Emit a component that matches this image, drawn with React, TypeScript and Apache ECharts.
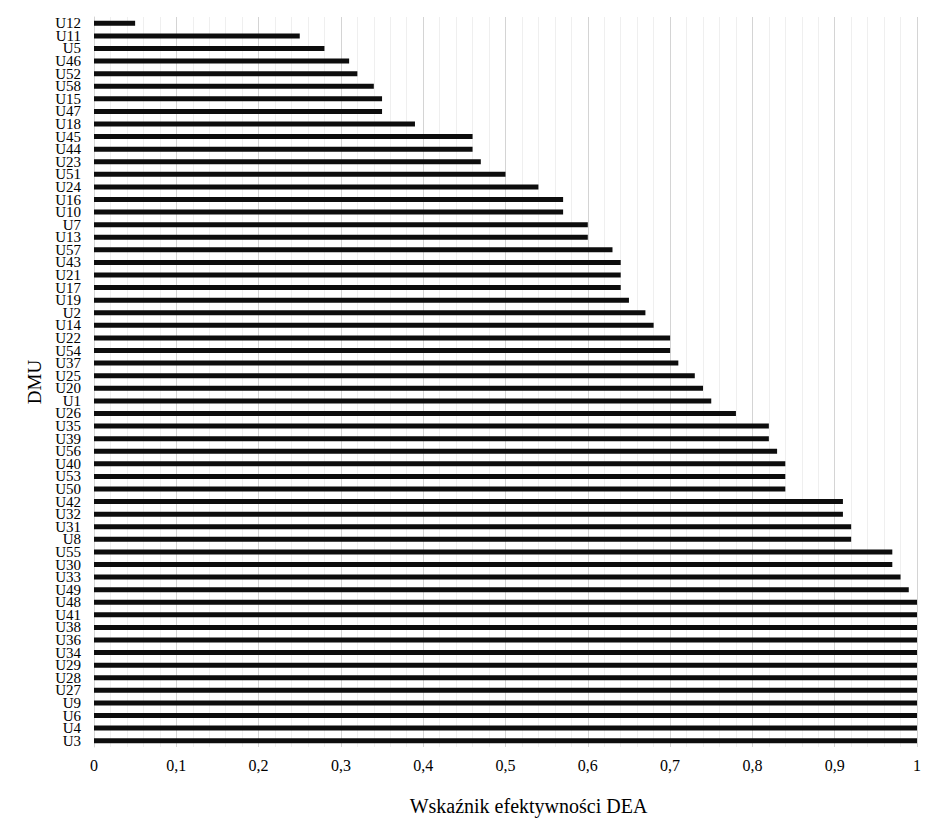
import React, { useEffect, useRef } from "react";
import * as echarts from "echarts";

const categories = [
  "U12", "U11", "U5", "U46", "U52", "U58", "U15", "U47", "U18", "U45",
  "U44", "U23", "U51", "U24", "U16", "U10", "U7", "U13", "U57", "U43",
  "U21", "U17", "U19", "U2", "U14", "U22", "U54", "U37", "U25", "U20",
  "U1", "U26", "U35", "U39", "U56", "U40", "U53", "U50", "U42", "U32",
  "U31", "U8", "U55", "U30", "U33", "U49", "U48", "U41", "U38", "U36",
  "U34", "U29", "U28", "U27", "U9", "U6", "U4", "U3",
];

const deaValues = [
  0.05, 0.25, 0.28, 0.31, 0.32, 0.34, 0.35, 0.35, 0.39, 0.46,
  0.46, 0.47, 0.5, 0.54, 0.57, 0.57, 0.6, 0.6, 0.63, 0.64,
  0.64, 0.64, 0.65, 0.67, 0.68, 0.7, 0.7, 0.71, 0.73, 0.74,
  0.75, 0.78, 0.82, 0.82, 0.83, 0.84, 0.84, 0.84, 0.91, 0.91,
  0.92, 0.92, 0.97, 0.97, 0.98, 0.99, 1, 1, 1, 1,
  1, 1, 1, 1, 1, 1, 1, 1,
];

const xAxisTitle = "Wskaźnik efektywności DEA";
const yAxisTitle = "DMU";

export default function App() {
  const ref = useRef<HTMLDivElement>(null);

  useEffect(() => {
    document.body.style.margin = "0";
    if (!ref.current) return;
    const chart = echarts.init(ref.current, null, { renderer: "svg" });
    const font = "'Liberation Serif', 'Times New Roman', serif";
    chart.setOption({
      animation: false,
      backgroundColor: "#ffffff",
      grid: { left: 94, right: 28, top: 17, bottom: 83, containLabel: false },
      xAxis: {
        type: "value",
        min: 0,
        max: 1,
        interval: 0.1,
        name: xAxisTitle,
        nameLocation: "middle",
        nameGap: 49,
        nameTextStyle: {
          fontFamily: font,
          fontSize: 20,
          color: "#000",
          padding: [0, 0, 0, 46],
        },
        axisLine: { show: false },
        axisTick: { show: false },
        axisLabel: {
          fontFamily: font,
          fontSize: 16,
          color: "#000",
          margin: 10,
          formatter: (v: number) => {
            const r = Math.round(v * 10) / 10;
            return String(r).replace(".", ",");
          },
        },
        splitLine: { show: true, lineStyle: { color: "#d4d4d4", width: 1 } },
        minorTick: { show: false, splitNumber: 5 },
        minorSplitLine: { show: true, lineStyle: { color: "#efefef", width: 1 } },
      },
      yAxis: {
        type: "category",
        inverse: true,
        data: categories,
        name: yAxisTitle,
        nameLocation: "middle",
        nameGap: 48,
        nameRotate: 90,
        nameTextStyle: { fontFamily: font, fontSize: 19, color: "#000" },
        axisLine: { show: true, lineStyle: { color: "#d4d4d4", width: 1 } },
        axisTick: { show: false },
        axisLabel: {
          fontFamily: font,
          fontSize: 15,
          lineHeight: 12,
          color: "#000",
          margin: 13,
          interval: 0,
        },
        splitLine: { show: false },
      },
      series: [
        {
          type: "bar",
          data: deaValues,
          barWidth: 5,
          itemStyle: { color: "#0d0d0d" },
        },
      ],
    });
    return () => chart.dispose();
  }, []);

  return <div ref={ref} style={{ width: 945, height: 830 }} />;
}
